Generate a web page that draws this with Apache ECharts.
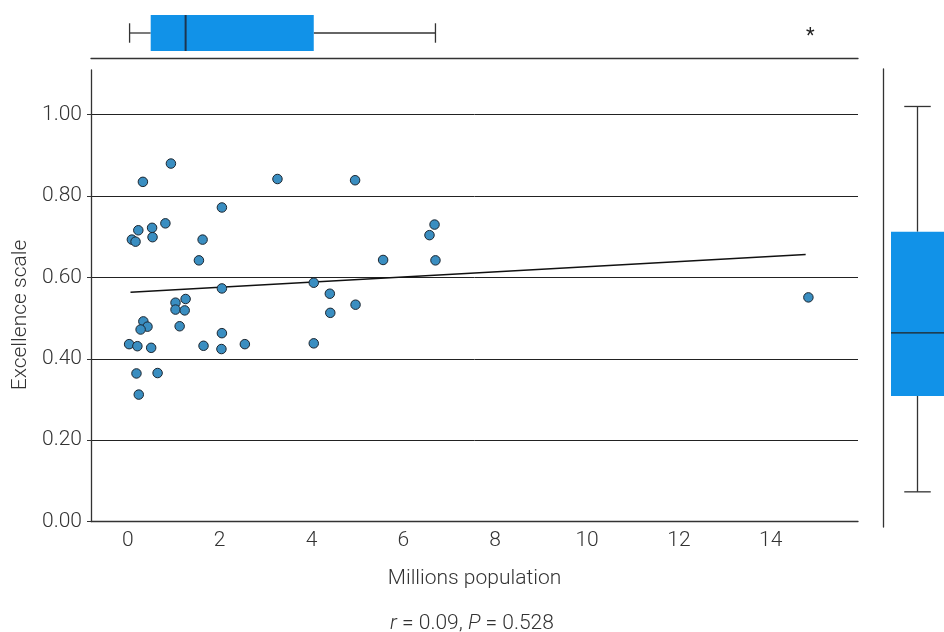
<!DOCTYPE html>
<html><head><meta charset="utf-8">
<script src="https://cdn.jsdelivr.net/npm/echarts@6/dist/echarts.min.js"></script>
<style>html,body{margin:0;padding:0;background:#fff}#c{width:944px;height:632px}</style>
</head><body><div id="c"></div>
<script>
// Scatter data: millions population (x) vs excellence scale (y)
const popX = [0.94,0.33,3.26,2.05,0.82,0.23,0.53,0.54,0.09,0.17,1.63,1.55,2.05,1.04,1.26,1.04,1.24,0.34,0.43,0.28,1.13,2.05,0.03,0.21,0.51,1.65,2.04,2.55,0.19,0.65,0.24,4.95,6.68,6.57,5.56,6.70,4.05,4.40,4.96,4.41,4.05,14.82];
const excY = [0.880,0.835,0.842,0.772,0.733,0.716,0.722,0.699,0.693,0.688,0.693,0.642,0.573,0.538,0.547,0.521,0.519,0.492,0.479,0.472,0.480,0.463,0.436,0.431,0.427,0.432,0.424,0.436,0.364,0.365,0.312,0.839,0.730,0.704,0.643,0.642,0.587,0.560,0.533,0.513,0.438,0.551];
// Fitted regression line end points
const fitX = [0.06, 14.76];
const fitY = [0.5635, 0.6564];
// Marginal box plots: [lower whisker, Q1, median, Q3, upper whisker]
const topBox = [0.04, 0.50, 1.26, 4.05, 6.70];
const topOutliers = [14.86];
const rightBox = [0.073, 0.309, 0.464, 0.713, 1.021];
// Labels
const xName = 'Millions population';
const yName = 'Excellence scale';
const statR = '0.09';
const statP = '0.528';

const FONT = 'Roboto';
const FS = 21;
const TXT = '#333';
const BOX = '#1192e8';

const chart = echarts.init(document.getElementById('c'), null, {renderer: 'canvas'});

function boxRender(horizontal) {
  return function (params, api) {
    const v = [api.value(1), api.value(2), api.value(3), api.value(4), api.value(5)];
    const children = [];
    const line = (x1, y1, x2, y2, w, c) => ({type: 'line', shape: {x1, y1, x2, y2}, style: {stroke: c || '#333', lineWidth: w || 1.3}});
    if (horizontal) {
      const band = api.size([0, 1])[1];
      const cy = api.coord([v[2], 0])[1];
      const p = v.map(x => api.coord([x, 0])[0]);
      const h = band / 2, ch = band * 0.27;
      children.push(line(p[0], cy, p[1], cy));
      children.push(line(p[3], cy, p[4], cy));
      children.push(line(p[0], cy - ch, p[0], cy + ch));
      children.push(line(p[4], cy - ch, p[4], cy + ch));
      children.push({type: 'rect', shape: {x: p[1], y: cy - h, width: p[3] - p[1], height: band}, style: {fill: BOX}});
      children.push(line(p[2], cy - h, p[2], cy + h, 2, '#1d3550'));
    } else {
      const band = api.size([1, 0])[0];
      const cx = api.coord([0, v[2]])[0];
      const p = v.map(y => api.coord([0, y])[1]);
      const h = band / 2, ch = band * 0.25;
      children.push(line(cx, p[0], cx, p[1]));
      children.push(line(cx, p[3], cx, p[4]));
      children.push(line(cx - ch, p[0], cx + ch, p[0]));
      children.push(line(cx - ch, p[4], cx + ch, p[4]));
      children.push({type: 'rect', shape: {x: cx - h, y: p[3], width: band, height: p[1] - p[3]}, style: {fill: BOX}});
      children.push(line(cx - h, p[2], cx + h, p[2], 1.3, '#222'));
    }
    return {type: 'group', children};
  };
}

const option = {
  backgroundColor: '#fff',
  animation: false,
  title: {
    text: '{i|r} = ' + statR + ', {i|P} = ' + statP,
    left: 'center', top: 608,
    textStyle: {fontFamily: FONT, fontWeight: 300, fontSize: FS, color: TXT,
      rich: {i: {fontFamily: FONT, fontWeight: 300, fontStyle: 'italic', fontSize: FS, color: TXT}}}
  },
  graphic: [{
    type: 'text', x: 21, y: 315, rotation: Math.PI / 2,
    style: {text: yName, font: '300 ' + FS + 'px Roboto', fill: TXT, align: 'center', verticalAlign: 'middle'}
  }],
  grid: [
    {left: 91, width: 767, top: 70, height: 451.5},
    {left: 91, width: 767, top: 15, height: 36},
    {left: 891, width: 66, top: 69, height: 458}
  ],
  xAxis: [
    {gridIndex: 0, type: 'value', min: -0.8, max: 15.9, splitNumber: 8,
      name: xName, nameLocation: 'middle', nameGap: 47,
      nameTextStyle: {fontFamily: FONT, fontWeight: 300, fontSize: FS, color: TXT},
      axisLine: {show: true, onZero: false, lineStyle: {color: '#333', width: 1.3}},
      axisTick: {show: false}, splitLine: {show: false},
      axisLabel: {showMinLabel: false, showMaxLabel: false, margin: 9,
        fontFamily: FONT, fontWeight: 300, fontSize: FS, color: TXT,
        formatter: v => (Math.abs(v / 2 - Math.round(v / 2)) < 1e-6 ? String(Math.round(v)) : '')}},
    {gridIndex: 1, type: 'value', min: -0.8, max: 15.9, position: 'bottom', offset: 7,
      axisLine: {show: true, onZero: false, lineStyle: {color: '#333', width: 1.3}},
      axisTick: {show: false}, axisLabel: {show: false}, splitLine: {show: false}},
    {gridIndex: 2, type: 'category', data: ['box'], show: false}
  ],
  yAxis: [
    {gridIndex: 0, type: 'value', min: 0, max: 1.11, interval: 0.2,
      axisLine: {show: true, onZero: false, lineStyle: {color: '#333', width: 1.3}},
      axisTick: {show: true, length: 4, lineStyle: {color: '#333'}},
      splitLine: {show: true, showMinLine: false, showMaxLine: false, lineStyle: {color: '#222', width: 1}},
      axisLabel: {showMaxLabel: false, margin: 9, fontFamily: FONT, fontWeight: 300, fontSize: FS, color: TXT,
        formatter: v => v.toFixed(2)}},
    {gridIndex: 1, type: 'category', data: ['box'], show: false},
    {gridIndex: 2, type: 'value', min: -0.0135, max: 1.1132, position: 'left', offset: 8,
      axisLine: {show: true, onZero: false, lineStyle: {color: '#333', width: 1.3}},
      axisTick: {show: false}, axisLabel: {show: false}, splitLine: {show: false}}
  ],
  series: [
    {type: 'line', xAxisIndex: 0, yAxisIndex: 0, data: fitX.map((x, i) => [x, fitY[i]]),
      showSymbol: false, lineStyle: {color: '#111', width: 1.6}, z: 2},
    {type: 'scatter', xAxisIndex: 0, yAxisIndex: 0, data: popX.map((x, i) => [x, excY[i]]),
      symbolSize: 9.5, itemStyle: {color: '#3a8ec1', borderColor: '#1c2630', borderWidth: 1, opacity: 1}, z: 3},
    {type: 'custom', xAxisIndex: 1, yAxisIndex: 1, data: [[0].concat(topBox)],
      encode: {x: [1, 2, 3, 4, 5], y: 0}, renderItem: boxRender(true)},
    {type: 'custom', xAxisIndex: 1, yAxisIndex: 1, data: topOutliers.map(x => [x, 0]),
      encode: {x: 0, y: 1},
      renderItem: (params, api) => {
        const p = api.coord([api.value(0), 0]);
        return {type: 'text', x: p[0], y: p[1] + 4, style: {text: '*', font: '400 20px Roboto', fill: '#222', align: 'center', verticalAlign: 'middle'}};
      }},
    {type: 'custom', xAxisIndex: 2, yAxisIndex: 2, data: [[0].concat(rightBox)],
      encode: {x: 0, y: [1, 2, 3, 4, 5]}, renderItem: boxRender(false)}
  ]
};
chart.setOption(option);
</script>
</body></html>
